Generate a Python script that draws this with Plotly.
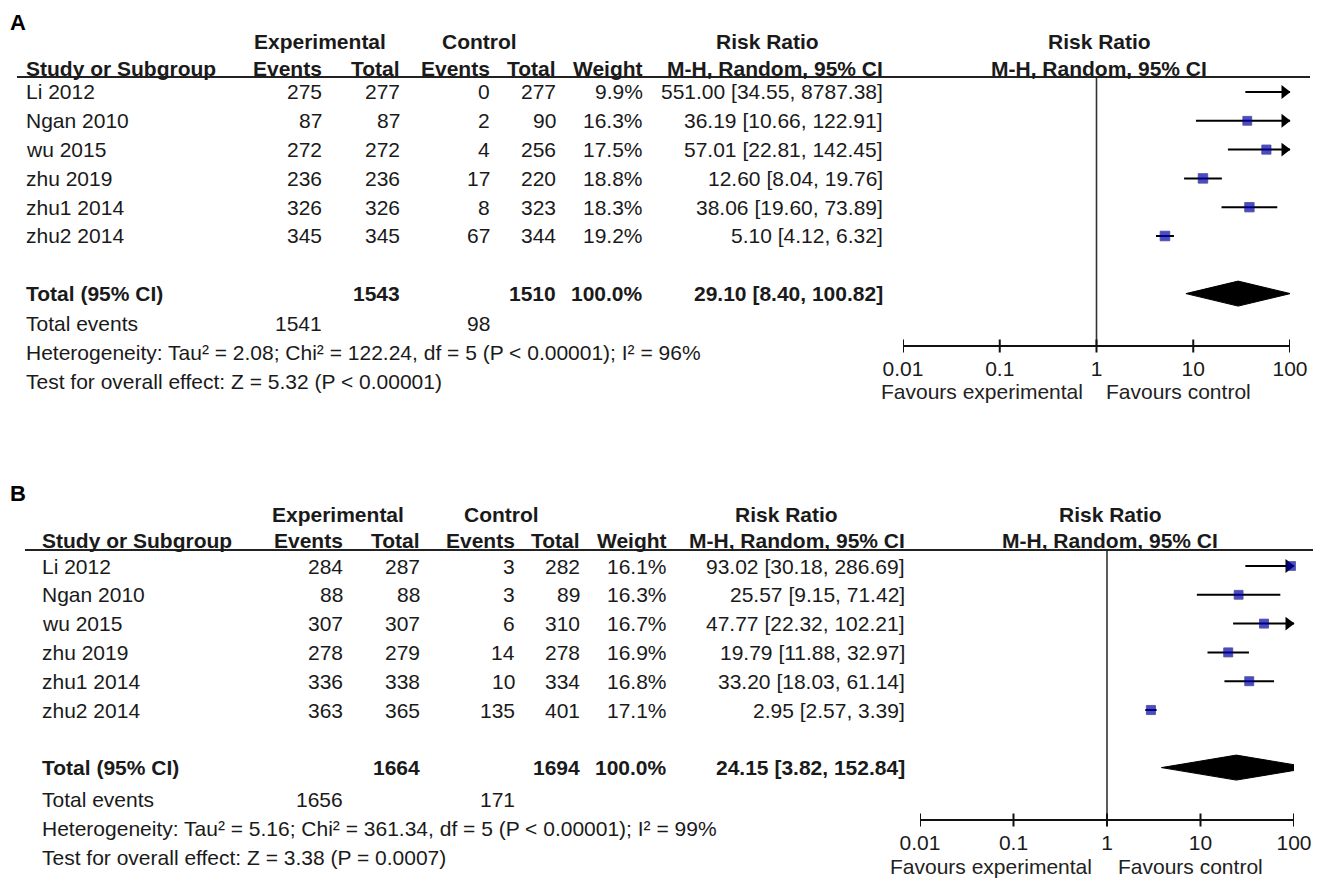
import numpy as np
import plotly.graph_objects as go

W, H = 1325, 893
OFF = 8  # page offset of the plot inside the browser window
FONT = "Liberation Sans, Arial, sans-serif"
TXT = "#1a1a1a"
FS = 21
PAD = 2  # annotation inner padding

# ---------------- data ----------------
studies = ["Li 2012", "Ngan 2010", "wu 2015", "zhu 2019", "zhu1 2014", "zhu2 2014"]

A_exp_events = [275, 87, 272, 236, 326, 345]
A_exp_total = [277, 87, 272, 236, 326, 345]
A_ctl_events = [0, 2, 4, 17, 8, 67]
A_ctl_total = [277, 90, 256, 220, 323, 344]
A_weight = [9.9, 16.3, 17.5, 18.8, 18.3, 19.2]
A_rr = [551.00, 36.19, 57.01, 12.60, 38.06, 5.10]
A_lo = [34.55, 10.66, 22.81, 8.04, 19.60, 4.12]
A_hi = [8787.38, 122.91, 142.45, 19.76, 73.89, 6.32]
A_tot = [29.10, 8.40, 100.82]
A_tot_n = [1543, 1510]
A_tot_events = [1541, 98]
A_het = "Heterogeneity: Tau² = 2.08; Chi² = 122.24, df = 5 (P < 0.00001); I² = 96%"
A_test = "Test for overall effect: Z = 5.32 (P < 0.00001)"

B_exp_events = [284, 88, 307, 278, 336, 363]
B_exp_total = [287, 88, 307, 279, 338, 365]
B_ctl_events = [3, 3, 6, 14, 10, 135]
B_ctl_total = [282, 89, 310, 278, 334, 401]
B_weight = [16.1, 16.3, 16.7, 16.9, 16.8, 17.1]
B_rr = [93.02, 25.57, 47.77, 19.79, 33.20, 2.95]
B_lo = [30.18, 9.15, 22.32, 11.88, 18.03, 2.57]
B_hi = [286.69, 71.42, 102.21, 32.97, 61.14, 3.39]
B_tot = [24.15, 3.82, 152.84]
B_tot_n = [1664, 1694]
B_tot_events = [1656, 171]
B_het = "Heterogeneity: Tau² = 5.16; Chi² = 361.34, df = 5 (P < 0.00001); I² = 99%"
B_test = "Test for overall effect: Z = 3.38 (P = 0.0007)"

tick_vals = [0.01, 0.1, 1, 10, 100]
tick_text = ["0.01", "0.1", "1", "10", "100"]

# ---------------- layout settings per panel (picture pixels) ----------------
panels = [
    dict(label="A", label_xy=(10, 8), label_top=True, dom=(12, 440), row0=92, rowh=28.8, foot_dy=1.5, name_x=26,
         cols=[322, 400, 490, 556, 643, 883], grp=[("Experimental", 320), ("Control", 479), ("Risk Ratio", 767)],
         hdr1=42, hdr2=68, line=77, line_x=(17, 1310), forest=(903, 1290), axis=346,
         fav=391, fav_x=(982, 1178), fhdr_x=1099, xa="x", ya="y",
         d=dict(ee=A_exp_events, et=A_exp_total, ce=A_ctl_events, ct=A_ctl_total, w=A_weight,
                rr=A_rr, lo=A_lo, hi=A_hi, tot=A_tot, n=A_tot_n, ev=A_tot_events, het=A_het, test=A_test)),
    dict(label="B", label_xy=(10, 493), label_top=False, dom=(450, 893), row0=566, rowh=28.8, foot_dy=3.5, name_x=42,
         cols=[343, 420, 515, 580, 667, 905], grp=[("Experimental", 338), ("Control", 501), ("Risk Ratio", 786)],
         hdr1=514, hdr2=540, line=550, line_x=(25, 1313), forest=(920, 1294), axis=820,
         fav=866, fav_x=(991, 1190), fhdr_x=1110, xa="x2", ya="y2",
         d=dict(ee=B_exp_events, et=B_exp_total, ce=B_ctl_events, ct=B_ctl_total, w=B_weight,
                rr=B_rr, lo=B_lo, hi=B_hi, tot=B_tot, n=B_tot_n, ev=B_tot_events, het=B_het, test=B_test)),
]


def PX(x):
    return (x - OFF) / W


def PY(y):
    return 1 - (y - OFF) / H


fig = go.Figure()
annotations = []
shapes = []


def txt(x, y, s, anchor="left", bold=False, size=FS, color=TXT, yanchor="middle"):
    dx = {"left": -PAD, "right": PAD, "center": 0}[anchor]
    annotations.append(dict(
        x=PX(x + dx), y=PY(y), xref="paper", yref="paper",
        text=("<b>%s</b>" % s if bold else s), showarrow=False,
        xanchor=anchor, yanchor=yanchor,
        font=dict(family=FONT, size=size, color=color)))


LMIN, LMAX = -2.0, 2.0

for k, p in enumerate(panels):
    d = p["d"]
    r0, rh = p["row0"], p["rowh"]
    rowpx = lambda i: r0 + i * rh + (p["foot_dy"] if i >= 8 else 0)
    prow = lambda px: (px - r0) / rh
    ppd = (p["forest"][1] - p["forest"][0]) / (LMAX - LMIN)  # pixels per decade

    # ---- table text ----
    txt(p["label_xy"][0], p["label_xy"][1], p["label"], anchor="left", bold=True, size=22, color="#000",
        yanchor=("top" if p["label_top"] else "middle"))
    for name, cx in p["grp"]:
        txt(cx, p["hdr1"], name, anchor="center", bold=True)
    txt(p["fhdr_x"], p["hdr1"], "Risk Ratio", anchor="center", bold=True)
    txt(p["name_x"], p["hdr2"], "Study or Subgroup", bold=True)
    for lab, cx in zip(["Events", "Total", "Events", "Total", "Weight", "M-H, Random, 95% CI"], p["cols"]):
        txt(cx, p["hdr2"], lab, anchor="right", bold=True)
    txt(p["fhdr_x"], p["hdr2"], "M-H, Random, 95% CI", anchor="center", bold=True)
    shapes.append(dict(type="line", xref="paper", yref="paper",
                       x0=PX(p["line_x"][0]), x1=PX(p["line_x"][1]),
                       y0=PY(p["line"]), y1=PY(p["line"]),
                       line=dict(color="#222", width=2)))

    for i, s in enumerate(studies):
        y = rowpx(i)
        txt(p["name_x"], y, s)
        vals = [str(d["ee"][i]), str(d["et"][i]), str(d["ce"][i]), str(d["ct"][i]),
                "%.1f%%" % d["w"][i], "%.2f [%.2f, %.2f]" % (d["rr"][i], d["lo"][i], d["hi"][i])]
        for v, cx in zip(vals, p["cols"]):
            txt(cx, y, v, anchor="right")

    yt = rowpx(7)
    txt(p["name_x"], yt, "Total (95% CI)", bold=True)
    txt(p["cols"][1], yt, str(d["n"][0]), anchor="right", bold=True)
    txt(p["cols"][3], yt, str(d["n"][1]), anchor="right", bold=True)
    txt(p["cols"][4], yt, "100.0%", anchor="right", bold=True)
    txt(p["cols"][5], yt, "%.2f [%.2f, %.2f]" % tuple(d["tot"]), anchor="right", bold=True)
    ye = rowpx(8)
    txt(p["name_x"], ye, "Total events")
    txt(p["cols"][0], ye, str(d["ev"][0]), anchor="right")
    txt(p["cols"][2], ye, str(d["ev"][1]), anchor="right")
    txt(p["name_x"], rowpx(9), d["het"])
    txt(p["name_x"], rowpx(10), d["test"])

    # favours labels
    txt(p["fav_x"][0], p["fav"], "Favours experimental", anchor="center", color="#222")
    txt(p["fav_x"][1], p["fav"], "Favours control", anchor="center", color="#222")

    # ---- forest plot ----
    xa, ya = p["xa"], p["ya"]
    axis_row = prow(p["axis"])
    line_row = prow(p["line"])

    # null line
    fig.add_trace(go.Scatter(x=[1, 1], y=[line_row, axis_row], mode="lines", xaxis=xa, yaxis=ya,
                             line=dict(color="#333", width=1.6), hoverinfo="skip", showlegend=False,
                             cliponaxis=False))
    # ticks crossing the axis line
    tx, ty = [], []
    for t in tick_vals:
        tx += [t, t, None]
        ty += [axis_row - 6.5 / rh, axis_row + 6.5 / rh, None]
    fig.add_trace(go.Scatter(x=tx, y=ty, mode="lines", xaxis=xa, yaxis=ya,
                             line=dict(color="#111", width=2), hoverinfo="skip", showlegend=False,
                             cliponaxis=False))

    # CI lines
    lx, ly, ax_, ay_ = [], [], [], []
    for i in range(len(studies)):
        lo_c = max(d["lo"][i], 10 ** LMIN)
        hi_c = min(d["hi"][i], 10 ** LMAX)
        if lo_c < hi_c:
            lx += [lo_c, hi_c, None]
            ly += [i, i, None]
        if d["hi"][i] > 10 ** LMAX:
            ax_.append(10 ** (LMAX - 5.5 / ppd))
            ay_.append(i)
    fig.add_trace(go.Scatter(x=lx, y=ly, mode="lines", xaxis=xa, yaxis=ya,
                             line=dict(color="#000", width=2), hoverinfo="skip", showlegend=False,
                             cliponaxis=False))
    fig.add_trace(go.Scatter(x=ax_, y=ay_, mode="markers", xaxis=xa, yaxis=ya,
                             marker=dict(symbol="triangle-right", size=12, color="#000"),
                             hoverinfo="skip", showlegend=False, cliponaxis=False))
    # squares
    sx, sy, ss = [], [], []
    for i in range(len(studies)):
        if 10 ** LMIN <= d["rr"][i] <= 10 ** LMAX:
            sx.append(d["rr"][i])
            sy.append(i)
            ss.append(2.2 * np.sqrt(d["w"][i]))
    fig.add_trace(go.Scatter(x=sx, y=sy, mode="markers", xaxis=xa, yaxis=ya,
                             marker=dict(symbol="square", size=ss, color="#0000b0",
                                         line=dict(color="#00006e", width=0.8)),
                             hoverinfo="skip", showlegend=False, cliponaxis=False))
    # diamond (clipped to the scale)
    est, lo, hi = [np.log10(v) for v in d["tot"]]
    hh = 12.5 / rh
    pts = []
    if lo < LMIN:
        f = (LMIN - lo) / (est - lo)
        pts += [(LMIN, 7 + hh * f), (LMIN, 7 - hh * f)]
    else:
        pts += [(lo, 7)]
    pts += [(est, 7 - hh)]
    if hi > LMAX:
        f = (hi - LMAX) / (hi - est)
        pts += [(LMAX, 7 - hh * f), (LMAX, 7 + hh * f)]
    else:
        pts += [(hi, 7)]
    pts += [(est, 7 + hh)]
    pts.append(pts[0])
    fig.add_trace(go.Scatter(x=[10 ** a for a, b in pts], y=[b for a, b in pts], mode="lines",
                             fill="toself", fillcolor="#000", xaxis=xa, yaxis=ya,
                             line=dict(color="#000", width=1), hoverinfo="skip", showlegend=False,
                             cliponaxis=False))

    # axes
    dom_top, dom_bot = p["dom"]
    xkey = "xaxis" if xa == "x" else "xaxis2"
    ykey = "yaxis" if ya == "y" else "yaxis2"
    fig.update_layout(**{
        xkey: dict(type="log", range=[LMIN, LMAX],
                   domain=[PX(p["forest"][0]), PX(p["forest"][1])],
                   anchor="free", position=PY(p["axis"]),
                   showline=True, linecolor="#111", linewidth=2,
                   ticks="", automargin=False, ticklabelstandoff=4,
                   tickvals=tick_vals, ticktext=tick_text, showgrid=False, zeroline=False,
                   tickfont=dict(family=FONT, size=FS, color=TXT), fixedrange=True),
        ykey: dict(domain=[PY(dom_bot), PY(dom_top)],
                   range=[prow(dom_bot), prow(dom_top)], anchor="free", position=0,
                   visible=False, showgrid=False, zeroline=False, fixedrange=True, automargin=False),
    })

fig.update_layout(
    width=W, height=H, margin=dict(l=0, r=0, t=0, b=0, pad=0, autoexpand=False),
    paper_bgcolor="white", plot_bgcolor="rgba(0,0,0,0)",
    annotations=annotations, shapes=shapes, showlegend=False,
)

fig.write_html("out.html")
